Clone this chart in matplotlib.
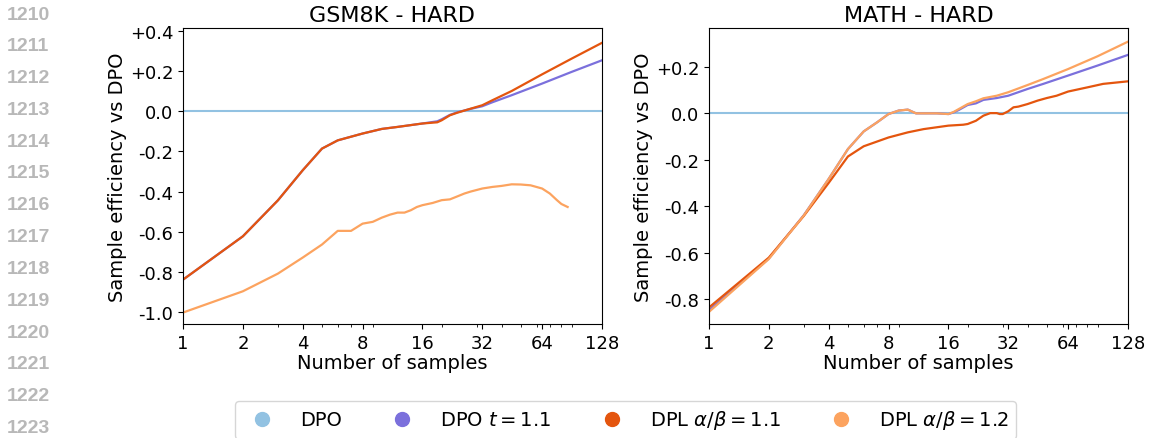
import matplotlib.pyplot as plt
import numpy as np
from matplotlib.lines import Line2D
from matplotlib.ticker import FixedLocator, FuncFormatter, LogLocator, NullFormatter

plt.rcParams["axes.unicode_minus"] = False

# GSM8K - HARD
gsm_x = [1, 2, 3, 4, 5, 6, 8, 10, 12, 16, 19, 20, 22, 24, 28, 32, 36, 45, 64, 90, 128]
gsm_dpl11 = [-0.839, -0.623, -0.444, -0.294, -0.186, -0.145, -0.111, -0.088, -0.078, -0.061,
             -0.055, -0.045, -0.020, -0.007, 0.013, 0.030, 0.055, 0.101, 0.184, 0.262, 0.341]
gsm_dpot = [-0.839, -0.623, -0.444, -0.294, -0.186, -0.145, -0.111, -0.088, -0.078, -0.061,
            -0.050, -0.040, -0.018, -0.005, 0.012, 0.025, 0.045, 0.080, 0.138, 0.196, 0.254]
gsm12_x = [1, 2, 3, 4, 5, 6, 7, 8, 9, 10, 11, 12, 13, 14, 15, 16, 18, 20, 22, 24, 26, 28,
           32, 36, 40, 45, 50, 56, 64, 70, 76, 80, 86]
gsm_dpl12 = [-1.003, -0.897, -0.809, -0.729, -0.664, -0.596, -0.596, -0.560, -0.551, -0.530,
             -0.515, -0.505, -0.505, -0.493, -0.477, -0.468, -0.457, -0.443, -0.439, -0.424,
             -0.410, -0.400, -0.385, -0.377, -0.372, -0.364, -0.365, -0.369, -0.385, -0.410,
             -0.443, -0.462, -0.477]

# MATH - HARD
math_x = [1, 2, 3, 4, 5, 6, 7, 8, 9, 10, 11, 12, 14, 16, 17, 18, 20, 22, 24, 28, 32, 40, 48,
          64, 90, 128]
math_dpot = [-0.849, -0.626, -0.439, -0.283, -0.154, -0.078, -0.039, -0.003, 0.012, 0.016,
             0.000, 0.000, 0.000, -0.003, 0.004, 0.014, 0.036, 0.043, 0.058, 0.066, 0.076,
             0.105, 0.127, 0.163, 0.206, 0.252]
math_dpl12 = [-0.856, -0.628, -0.440, -0.283, -0.154, -0.078, -0.039, -0.003, 0.012, 0.016,
              0.000, 0.000, 0.000, -0.003, 0.006, 0.018, 0.040, 0.052, 0.065, 0.076, 0.091,
              0.122, 0.148, 0.191, 0.246, 0.309]
math11_x = [1, 2, 3, 4, 5, 6, 8, 10, 12, 16, 19, 20, 22, 24, 26, 28, 29, 30, 32, 34, 36, 40,
            45, 50, 56, 64, 80, 96, 128]
math_dpl11 = [-0.837, -0.622, -0.442, -0.300, -0.186, -0.142, -0.104, -0.082, -0.068, -0.053,
              -0.049, -0.046, -0.032, -0.010, 0.001, 0.001, -0.003, -0.003, 0.009, 0.026,
              0.029, 0.040, 0.055, 0.066, 0.076, 0.094, 0.112, 0.127, 0.138]

labels = ["DPO", r"DPO $t = 1.1$", r"DPL $\alpha/\beta = 1.1$", r"DPL $\alpha/\beta = 1.2$"]
colors = ["#92c2e2", "#7b70dc", "#e4550e", "#fca35f"]
x_ticks = [1, 2, 4, 8, 16, 32, 64, 128]
line_numbers = list(range(1210, 1224))


def fmt(value, _pos):
    if abs(value) < 1e-9:
        return "0.0"
    if value > 0:
        return f"+{value:.1f}"
    return f"-{abs(value):.1f}"


fig = plt.figure(figsize=(11.49, 4.39), dpi=100)
ax_left = fig.add_axes([0.1593, 0.2597, 0.3646, 0.6743])
ax_right = fig.add_axes([0.6170, 0.2597, 0.3647, 0.6743])

panels = [
    (ax_left, "GSM8K - HARD",
     [(gsm_x, gsm_dpot, 1), (gsm_x, gsm_dpl11, 2), (gsm12_x, gsm_dpl12, 3)],
     (-1.06, 0.415), np.arange(-1.0, 0.41, 0.2)),
    (ax_right, "MATH - HARD",
     [(math_x, math_dpot, 1), (math11_x, math_dpl11, 2), (math_x, math_dpl12, 3)],
     (-0.908, 0.368), np.arange(-0.8, 0.21, 0.2)),
]

for axis, title, series, ylim, yticks in panels:
    axis.plot([1, 128], [0, 0], color=colors[0], linewidth=1.5)
    for xs, ys, idx in series:
        axis.plot(xs, ys, color=colors[idx], linewidth=1.6)
    axis.set_xscale("log", base=2)
    axis.set_xlim(1, 128)
    axis.set_ylim(*ylim)
    axis.xaxis.set_major_locator(FixedLocator(x_ticks))
    axis.xaxis.set_major_formatter(FuncFormatter(lambda v, p: f"{int(round(v))}"))
    axis.xaxis.set_minor_locator(LogLocator(base=10, subs=np.arange(2, 10)))
    axis.xaxis.set_minor_formatter(NullFormatter())
    axis.yaxis.set_major_locator(FixedLocator(yticks))
    axis.yaxis.set_major_formatter(FuncFormatter(fmt))
    axis.tick_params(labelsize=13)
    axis.set_title(title, fontsize=16, pad=5)
    axis.set_xlabel("Number of samples", fontsize=14, labelpad=1)
    axis.set_ylabel("Sample efficiency vs DPO", fontsize=14, labelpad=2)

handles = [
    Line2D([], [], linestyle="none", marker="o", markersize=10, color=c) for c in colors
]
fig.legend(handles, labels, loc="upper center", bbox_to_anchor=(0.5444, 0.085), ncol=4,
           fontsize=14, columnspacing=2.1, handletextpad=0.95, frameon=True,
           borderaxespad=0.0)

for i, n in enumerate(line_numbers):
    fig.text(28 / 1149, 1 - (15 + i * 31.8) / 439, str(n), ha="center", va="center",
             fontsize=14, color="#b8b8b8", family="Liberation Sans", weight="bold")

fig.savefig("out.png", dpi=100)
